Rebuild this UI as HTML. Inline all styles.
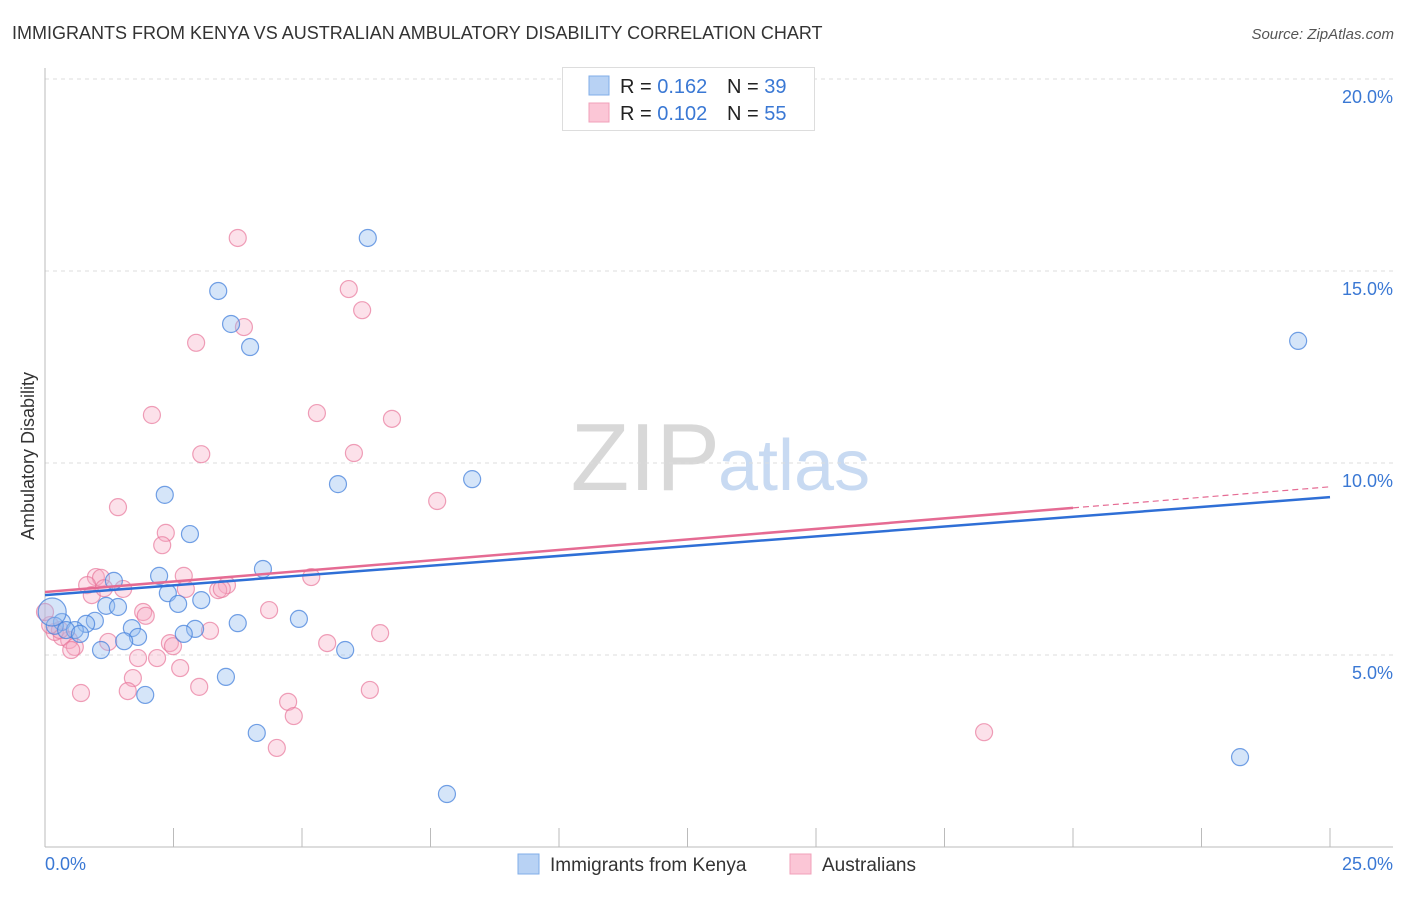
<!DOCTYPE html>
<html><head><meta charset="utf-8"><style>
body{margin:0;background:#fff;font-family:"Liberation Sans",sans-serif;}
svg text{font-family:"Liberation Sans",sans-serif;}
</style></head><body>
<svg id="c" width="1406" height="892" viewBox="0 0 1406 892" xmlns="http://www.w3.org/2000/svg">
<text x="12" y="39" font-size="18" fill="#333">IMMIGRANTS FROM KENYA VS AUSTRALIAN AMBULATORY DISABILITY CORRELATION CHART</text>
<text x="1394" y="39" font-size="15" fill="#555" font-style="italic" text-anchor="end">Source: ZipAtlas.com</text>
<text x="720" y="490" font-size="96" fill="#d8d8d8" text-anchor="end" font-family="Liberation Serif">ZIP</text>
<text x="718" y="490" font-size="72" fill="#c8daf2">atlas</text>
<g id="grid"></g>
<g id="axes"></g>
<text x="34" y="456" font-size="18" fill="#333" text-anchor="middle" transform="rotate(-90 34 456)">Ambulatory Disability</text>
<g id="pts"></g>
<g id="trend"></g>
<g>
<rect x="562.5" y="67.5" width="252" height="63" fill="#fff" stroke="#ddd"/>
<rect x="589" y="76" width="20" height="19" fill="#b8d2f4" stroke="#80aee8"/>
<rect x="589" y="103" width="20" height="19" fill="#fbc6d6" stroke="#f0a0ba"/>
<text x="620" y="93" font-size="20" fill="#222">R = <tspan fill="#3a78d4">0.162</tspan></text>
<text x="727" y="93" font-size="20" fill="#222">N = <tspan fill="#3a78d4">39</tspan></text>
<text x="620" y="120" font-size="20" fill="#222">R = <tspan fill="#3a78d4">0.102</tspan></text>
<text x="727" y="120" font-size="20" fill="#222">N = <tspan fill="#3a78d4">55</tspan></text>
</g>
<g>
<rect x="518" y="854" width="21" height="20" fill="#b8d2f4" stroke="#80aee8"/>
<text x="550" y="871" font-size="19" fill="#333">Immigrants from Kenya</text>
<rect x="790" y="854" width="21" height="20" fill="#fbc6d6" stroke="#f0a0ba"/>
<text x="822" y="871" font-size="19" fill="#333">Australians</text>
</g>
</svg>
<script>
const blueX=[6.28,3.37,3.62,3.99,24.38,2.33,5.70,8.31,2.82,4.24,2.22,1.34,2.39,2.59,3.04,1.19,1.42,3.75,4.94,2.92,2.70,1.69,1.81,1.54,0.97,0.80,0.33,0.19,0.14,0.58,0.41,0.68,1.09,5.84,3.52,1.95,4.12,7.82,23.25];
const blueY=[15.86,14.48,13.62,13.02,13.18,9.17,9.45,9.58,8.15,7.24,7.06,6.93,6.61,6.33,6.43,6.28,6.25,5.83,5.94,5.68,5.55,5.70,5.47,5.36,5.89,5.81,5.86,5.76,6.12,5.65,5.65,5.55,5.13,5.13,4.43,3.96,2.97,1.38,2.34];
const pinkX=[3.75,5.91,6.17,3.87,2.94,2.08,5.29,6.75,3.04,6.01,7.63,1.42,2.35,2.28,0.99,1.09,2.70,5.18,0.82,0.91,1.52,1.15,3.54,3.37,2.74,3.44,4.36,1.91,1.96,1.23,2.43,2.49,3.21,6.52,5.49,0.47,0.33,0.19,0.58,0.51,2.18,1.81,2.63,1.71,0.70,1.61,3.00,6.32,4.73,4.84,4.51,18.27,0.29,0.10,0.0];
const pinkY=[15.86,14.53,13.98,13.54,13.13,11.25,11.30,11.15,10.23,10.26,9.01,8.85,8.18,7.86,7.03,7.01,7.06,7.03,6.82,6.56,6.72,6.74,6.82,6.69,6.72,6.72,6.17,6.12,6.02,5.34,5.31,5.23,5.63,5.57,5.31,5.39,5.47,5.60,5.21,5.13,4.92,4.92,4.66,4.40,4.01,4.06,4.17,4.09,3.78,3.41,2.58,2.99,5.65,5.78,6.12];
const yTicks=[5,10,15,20];
const yTickLabels=["5.0%","10.0%","15.0%","20.0%"];
const xTicks=[0,2.5,5,7.5,10,12.5,15,17.5,20,22.5,25];
const xTickLabels=["0.0%","25.0%"];
const blueTrend=[6.56,9.11];
const pinkTrend=[6.64,9.38];
const pinkSolidEnd=20;

const NS="http://www.w3.org/2000/svg";
const X=v=>45+v*51.4, Y=v=>847-v*38.4;
function mk(tag,attrs,parent){const e=document.createElementNS(NS,tag);for(const k in attrs)e.setAttribute(k,attrs[k]);parent.appendChild(e);return e;}
const grid=document.getElementById('grid'),axes=document.getElementById('axes'),pts=document.getElementById('pts'),trend=document.getElementById('trend');
yTicks.forEach((t,i)=>{
 const l=mk('line',{x1:45,x2:1393,y1:Y(t),y2:Y(t),stroke:'#ddd','stroke-dasharray':'4,4'},grid);
 
 
 const tx=mk('text',{x:1393,y:Y(t)+24,'font-size':18,fill:'#3a78d4','text-anchor':'end'},grid);
 tx.textContent=yTickLabels[i];
 
 
});
const xl=mk('line',{x1:45,x2:1393,y1:847,y2:847,stroke:'#bbb'},axes);


const yl=mk('line',{x1:45,x2:45,y1:68,y2:847,stroke:'#bbb'},axes);


xTicks.forEach(t=>{
 const l=mk('line',{x1:X(t),x2:X(t),y1:828,y2:847,stroke:'#bbb'},axes);
 
 
});
const xa=mk('text',{x:45,y:870,'font-size':18,fill:'#3a78d4'},axes);
xa.textContent=xTickLabels[0];


const xb=mk('text',{x:1393,y:870,'font-size':18,fill:'#3a78d4','text-anchor':'end'},axes);
xb.textContent=xTickLabels[1];


pinkX.forEach((x,i)=>{
 const c=mk('circle',{cx:X(x),cy:Y(pinkY[i]),r:8.5,fill:'rgba(247,170,195,0.35)',stroke:'rgba(232,120,155,0.7)','stroke-width':1.2},pts);
 
 
});
blueX.forEach((x,i)=>{
 const c=mk('circle',{cx:X(x),cy:Y(blueY[i]),r:i===28?14:8.5,fill:'rgba(150,190,240,0.4)',stroke:'rgba(70,130,220,0.75)','stroke-width':1.2},pts);
 
 
});
const bl=mk('line',{x1:X(0),y1:Y(blueTrend[0]),x2:X(25),y2:Y(blueTrend[1]),stroke:'#2f6fd6','stroke-width':2.5},trend);


const pm=pinkTrend[0]+(pinkTrend[1]-pinkTrend[0])*pinkSolidEnd/25;
const pl=mk('line',{x1:X(0),y1:Y(pinkTrend[0]),x2:X(pinkSolidEnd),y2:Y(pm),stroke:'#e56b93','stroke-width':2.5},trend);


const pd=mk('line',{x1:X(pinkSolidEnd),y1:Y(pm),x2:X(25),y2:Y(pinkTrend[1]),stroke:'#e56b93','stroke-width':1.2,'stroke-dasharray':'6,4'},trend);


</script>
</body></html>
